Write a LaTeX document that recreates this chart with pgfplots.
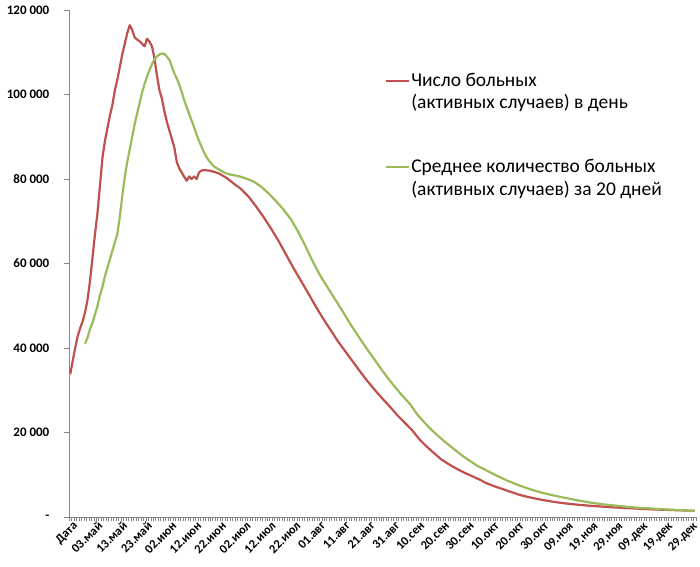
\documentclass[border=0pt]{standalone}
\usepackage{fontspec}
\setmainfont{Carlito}
\usepackage{pgfplots}
\pgfplotsset{compat=1.18}
\definecolor{exred}{RGB}{192,80,77}
\definecolor{exgreen}{RGB}{155,187,89}
\definecolor{axgray}{RGB}{134,134,134}
\begin{document}
\begin{tikzpicture}[x=1pt,y=1pt]
\useasboundingbox (-69pt,-49pt) rectangle (631pt,517pt);
\begin{axis}[
  at={(0,0)}, anchor=south west,
  scale only axis, width=627pt, height=507pt,
  xmin=-0.5, xmax=252.5, ymin=0, ymax=120000,
  axis x line*=bottom, axis y line*=left,
  axis line style={axgray, line width=0.8pt, -},
  tick align=outside,
  xtick={0,10,...,250},
  xticklabels={Дата,03.май,13.май,23.май,02.июн,12.июн,22.июн,02.июл,12.июл,22.июл,01.авг,11.авг,21.авг,31.авг,10.сен,20.сен,30.сен,10.окт,20.окт,30.окт,09.ноя,19.ноя,29.ноя,09.дек,19.дек,29.дек},
  x tick label style={rotate=45, anchor=north east, font=\fontsize{12.5}{13}\selectfont\bfseries, inner sep=0.5pt, xshift=3pt},
  major x tick style={draw=none},
  minor xtick={-0.5,0.5,...,252.5},
  minor x tick style={axgray, line width=0.5pt},
  minor tick length=4pt,
  ytick={0,20000,...,120000},
  yticklabels={-,20 000,40 000,60 000,80 000,100 000,120 000},
  y tick label style={font=\fontsize{13}{14}\selectfont\bfseries, xshift=-14pt, inner sep=0.5pt},
  major y tick style={axgray, line width=0.8pt},
  major tick length=5pt,
  legend style={draw=none, fill=none, at={(0.499,0.882)}, anchor=north west,
    font=\fontsize{19.5}{22.5}\selectfont, nodes={align=left, inner sep=1pt}, row sep=47pt},
  legend cell align=left,
  legend image code/.code={\draw[#1] (0pt,11pt) -- (23pt,11pt);},
]
\addplot[exred, line width=2.2pt, line join=round] coordinates {
(0,33800)(1,37000)(2,40000)(3,42800)(4,44700)(5,46300)(6,48500)(7,51500)(8,56000)(9,61500)
(10,67000)(11,72000)(12,78500)(13,85000)(14,89000)(15,92000)(16,95000)(17,97500)(18,101000)(19,103500)
(20,106500)(21,109500)(22,112000)(23,114500)(24,116400)(25,115300)(26,113500)(27,113000)(28,112600)(29,112000)
(30,111400)(31,113200)(32,112500)(33,111400)(34,108500)(35,104500)(36,101000)(37,99000)(38,96000)(39,93500)
(40,91500)(41,89500)(42,87500)(43,84000)(44,82500)(45,81500)(46,80500)(47,79600)(48,80600)(49,80000)
(50,80600)(51,80000)(52,81600)(53,82000)(54,82100)(56,82000)(58,81700)(60,81300)(63,80300)(66,78900)
(69,77600)(72,75800)(75,73500)(78,71000)(81,68300)(84,65400)(87,62200)(90,59000)(93,56000)(96,53000)
(99,49900)(102,47000)(105,44300)(108,41600)(111,39200)(114,36800)(117,34400)(120,32100)(123,30000)(126,28000)
(129,26100)(132,24100)(135,22300)(138,20500)(141,18300)(144,16600)(147,15000)(150,13500)(153,12400)(156,11400)
(159,10500)(162,9700)(165,8900)(168,8000)(171,7300)(174,6700)(177,6100)(181,5300)(185,4700)(190,4100)
(195,3600)(200,3200)(205,2900)(210,2650)(215,2450)(220,2250)(225,2100)(230,1950)(235,1800)(240,1700)
(245,1600)(250,1500)(252,1450)
};
\addlegendentry{Число больных\\(активных случаев) в день}
\addplot[exgreen, line width=2.2pt, line join=round] coordinates {
(6,41000)(7,42500)(8,44500)(9,46000)(10,48000)(11,50000)(12,52500)(13,54500)(14,57000)(15,59000)
(16,61000)(17,63000)(18,65000)(19,67000)(20,71000)(21,76000)(22,80500)(23,84000)(24,87000)(25,90000)
(26,93000)(27,95500)(28,98000)(29,100500)(30,102500)(31,104300)(32,105800)(33,107200)(34,108300)(35,109000)
(36,109500)(37,109700)(38,109600)(39,109000)(40,108200)(41,106600)(42,105000)(43,103800)(44,102300)(45,100600)
(46,98600)(47,97000)(48,95400)(49,93800)(50,92200)(51,90500)(52,89000)(53,87600)(54,86300)(55,85200)
(56,84300)(57,83600)(58,83000)(59,82600)(61,81900)(63,81300)(65,81000)(67,80800)(69,80500)(71,80100)
(74,79400)(77,78200)(80,76600)(83,74800)(86,72800)(89,70500)(92,67500)(95,64000)(98,60300)(101,57000)
(104,54200)(107,51400)(110,48600)(113,45700)(116,43000)(119,40400)(122,37900)(125,35400)(128,33000)(131,30800)
(134,28700)(137,26800)(140,24300)(143,22300)(146,20500)(149,18900)(152,17400)(155,16000)(158,14600)(161,13400)
(164,12200)(168,11000)(172,9800)(176,8700)(181,7500)(186,6500)(190,5800)(195,5100)(200,4500)(205,3900)
(210,3400)(215,3000)(220,2700)(225,2400)(230,2150)(235,2000)(240,1800)(245,1650)(250,1500)(252,1450)
};
\addlegendentry{Среднее количество больных\\(активных случаев) за 20 дней}
\end{axis}
\end{tikzpicture}
\end{document}
